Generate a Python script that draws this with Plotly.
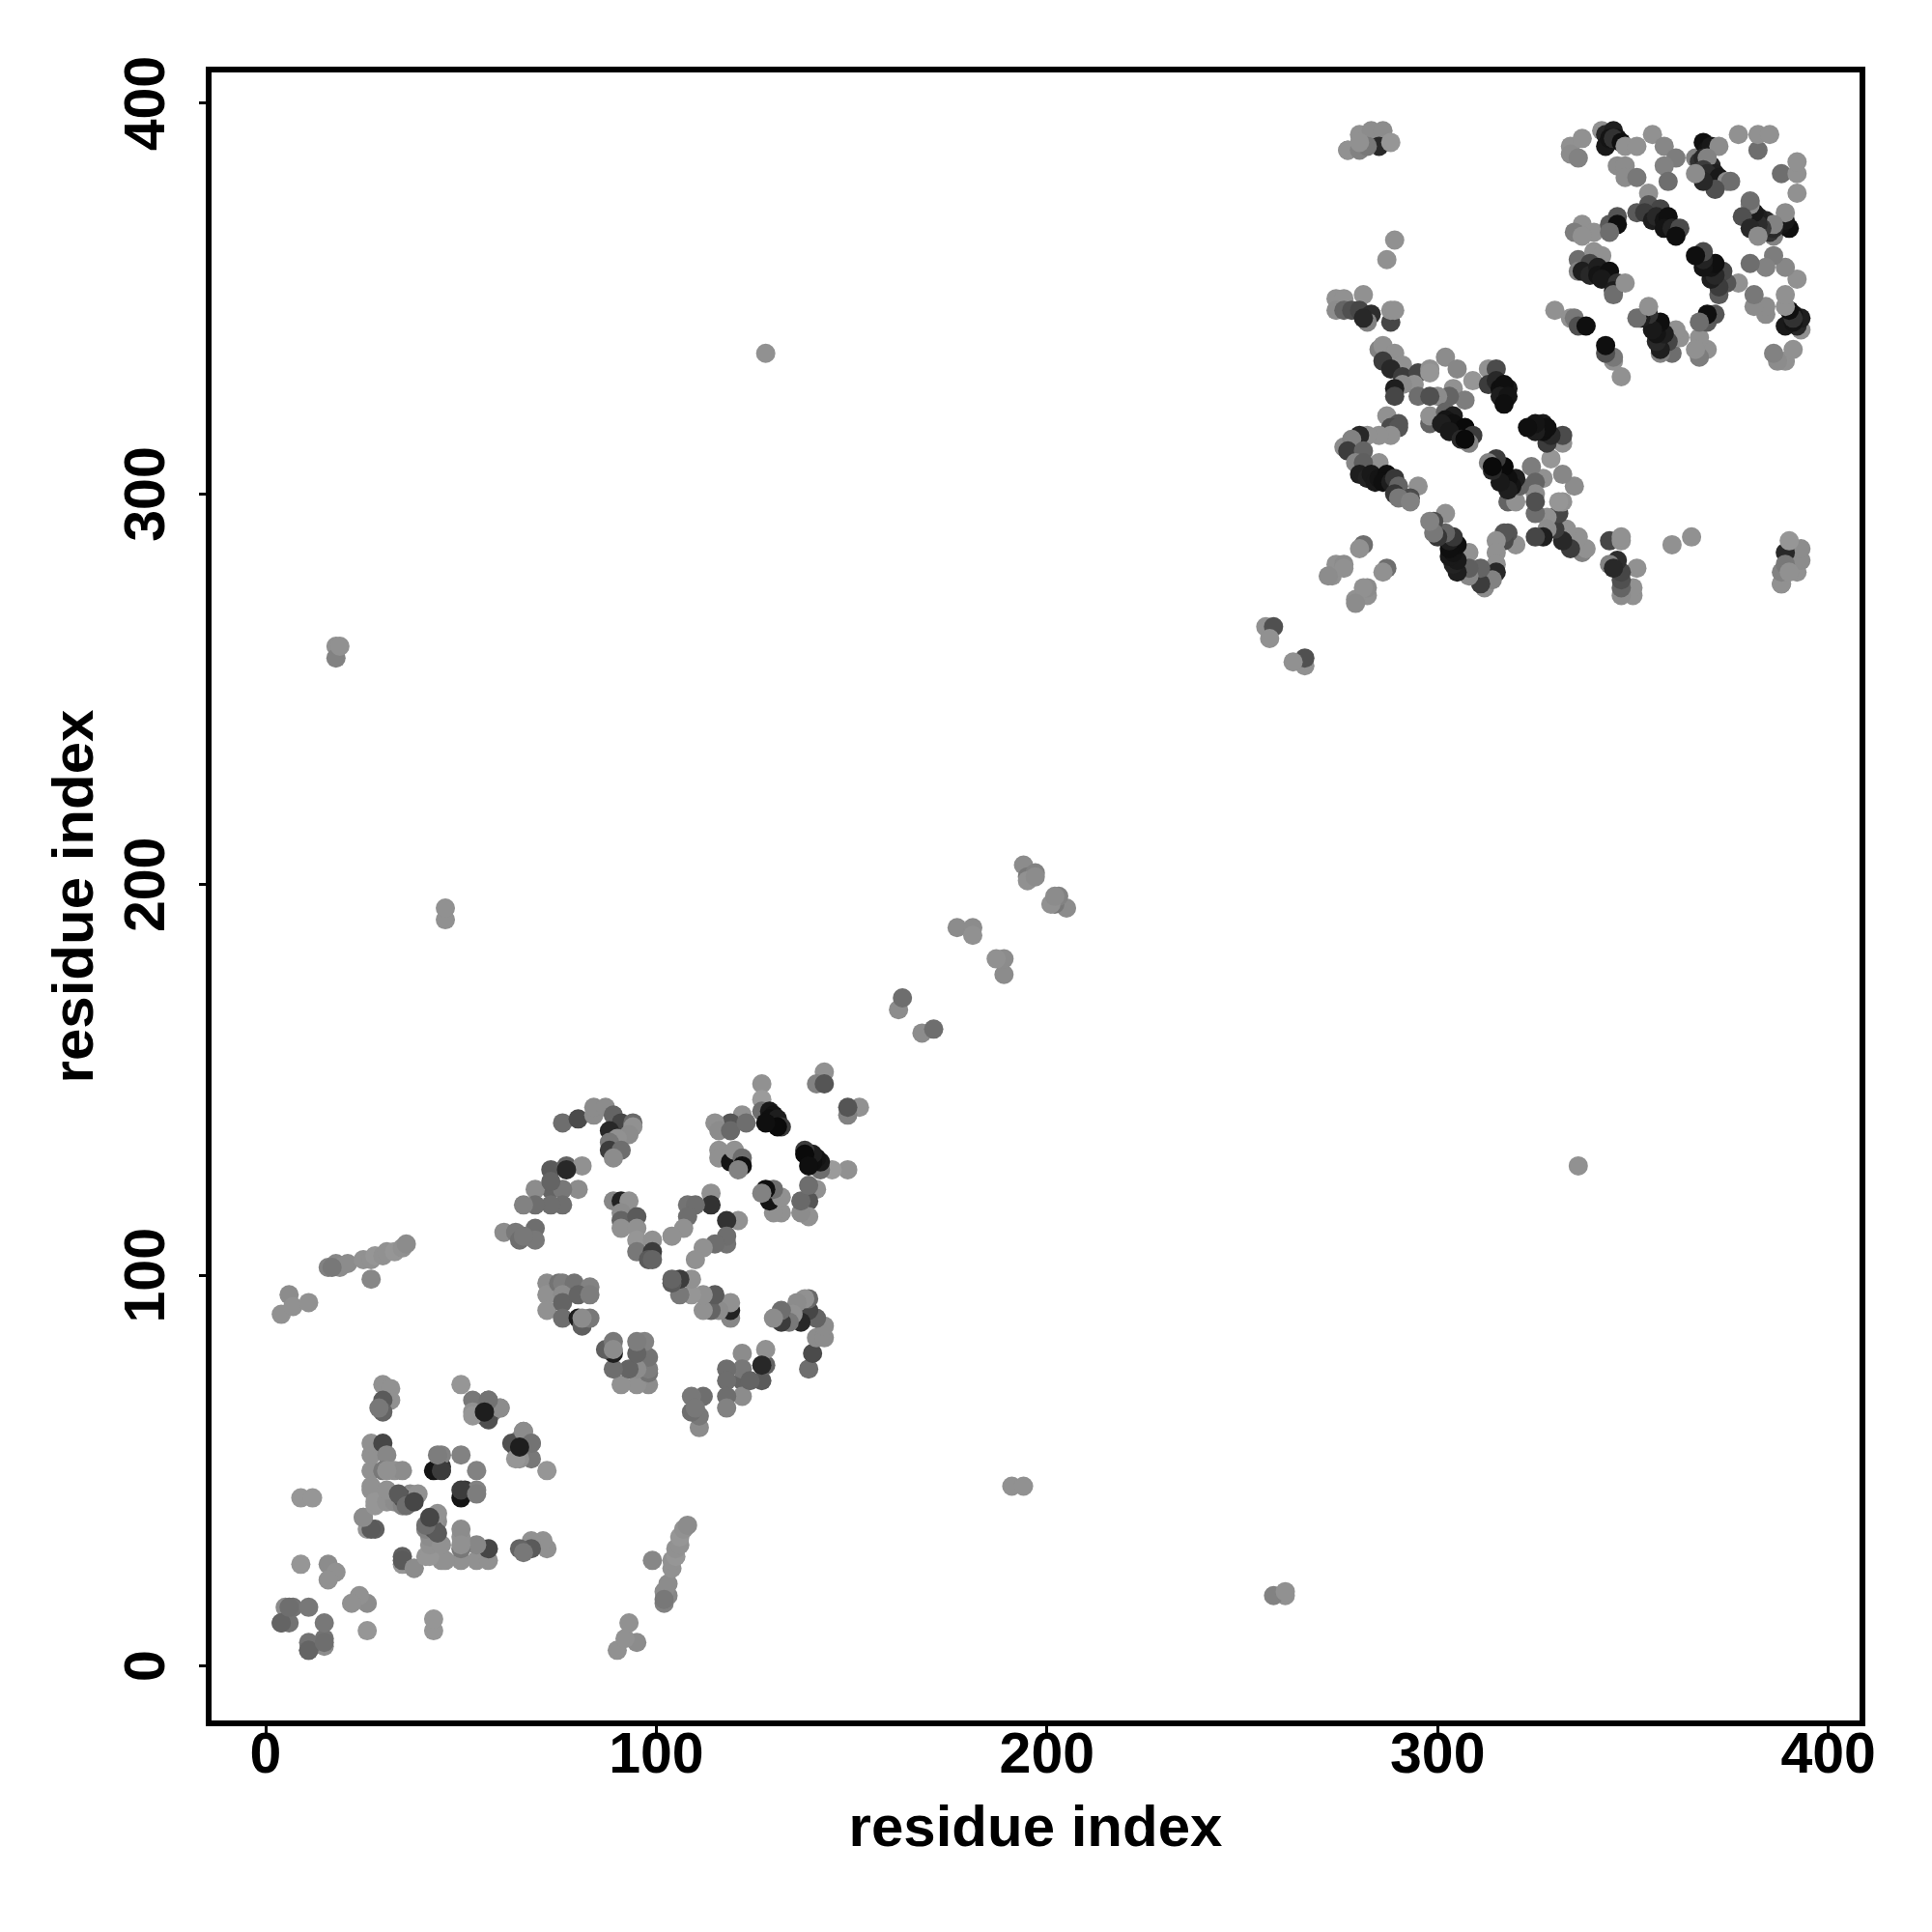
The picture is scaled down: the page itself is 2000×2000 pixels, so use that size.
import plotly.graph_objects as go

# Contacts: (residue i, residue j, grey level). The map is symmetric.
domain1 = [(9,26,150),(16,26,140),(18,24,145),(16,22,145),(5,15,140),(7,15,115),(4,11,105),(6,11,115),
(11,15,120),(4,11,100),(6,15,110),(9,43,150),(12,43,150),(25,38,145),(26,35,150),(28,35,95),
(27,35,90),(25,38,140),(28,41,150),(27,45,145),(27,50,145),(27,54,145),(27,57,145),(30,57,70),
(31,54,135),(30,50,120),(27,46,145),(28,42,150),(31,42,145),(33,50,145),(35,50,140),(37,44,140),
(35,42,60),(33,42,140),(31,45,145),(36,43,150),(35,41,130),(35,43,80),(34,44,90),(36,41,110),(39,44,145),(38,42,70),
(30,72,145),(32,71,145),(32,68,145),(30,68,90),(30,65,100),(29,66,120),(31,50,145),(45,51,55),(43,50,20),
(45,54,130),(50,72,150),(53,68,120),(57,68,120),(60,66,145),(53,65,145),(56,64,55),(58,65,130),
(57,63,80),(60,66,140),(57,68,115),(53,64,150),(45,50,60),(44,54,125),(56,65,30),(50,54,130)]

bridge = [(4,90,145),(6,95,140),(7,92,145),(11,93,145),(16,102,130),(18,103,135),(19,102,140),(21,103,140),
(25,104,145),(27,99,135),(27,104,145),(28,105,150),(30,105,145),(31,106,145),(33,106,150),(35,107,145),(36,108,140),
(18,261,145),(18,258,130),(19,261,145),(46,191,145),(46,194,145),(128,336,145),(17,102,120)]

offdiag = [(162,168,140),(163,171,110),(177,189,140),(181,189,140),(181,187,145),
(194,205,140),(195,202,120),(197,203,130),(195,201,145),(197,202,140),(256,266,145),(258,266,80),(257,263,145)]

domain2 = [(76,139,110),(80,140,75),(84,141,140),(84,143,140),(87,143,140),(89,141,100),(91,139,70),(94,139,105),
(94,138,145),(93,136,140),(88,137,40),(90,135,145),(88,134,120),(88,132,60),(91,132,110),(89,130,140),
(73,127,90),(77,128,100),(81,128,145),(80,122,140),(77,127,40),(73,122,100),(76,122,120),(69,122,140),
(76,118,110),(73,118,110),(69,118,110),(66,118,130),(73,124,100),(61,111,140),(64,111,120),(65,109,110),
(69,112,110),(69,109,120),(66,110,120),(127,149,145),(127,145,155),(127,142,110),(129,142,25),(130,141,20),(129,140,15),(130,139,15),(131,140,30),
(132,138,60),(131,138,10),(128,139,15),(122,141,145),(119,139,85),(115,139,145),(116,137,140),(119,137,105),
(123,139,110),(116,132,145),(116,130,145),(119,129,20),(120,132,145),(122,130,110),(122,128,15),(121,127,130),
(143,152,145),(141,149,130),(143,149,85),(89,119,135),(91,119,35),(93,119,145),(91,116,140),(91,114,100),
(91,112,145),(95,115,90),(95,112,145),(95,109,150),(95,106,120),(99,109,145),(99,106,60),(98,104,90),(99,104,100),
(114,121,145),(114,118,50),(108,118,115),(110,118,110),(108,115,110),(107,112,145),(104,110,145),
(72,98,140),(72,95,145),(72,91,145),(75,98,115),(76,98,125),(79,98,115),(83,97,130),(76,95,140),(76,93,100),
(80,95,100),(83,95,125),(76,89,110),(80,89,30),(81,87,95),(83,89,120),(81,89,140)]

domain3a = [(285,337,130),(286,338,145),(289,336,145),(286,334,60),(291,333,145),(288,332,40),(291,330,60),(295,331,70),
(294,328,145),(291,328,140),(289,327,30),(289,325,70),(295,325,110),(298,332,145),(302,335,140),(305,332,135),
(298,331,150),(309,329,150),(313,332,145),(315,332,75),(313,328,60),(315,329,40),(316,327,15),(318,327,25),(317,328,15),(316,325,30),(318,325,20),(317,323,15),
(304,327,145),(307,324,125),(303,325,100),(300,325,140),(298,325,80),(298,318,100),(298,320,145),(302,321,100),
(304,320,30),(302,319,20),(304,318,15),(305,316,15),(308,315,30),(301,318,30),(307,317,10),(303,316,25),(306,314,40),(309,315,60),(308,313,130),(307,314,10),
(287,320,145),(290,318,85),(288,317,75),(290,317,85),(288,315,145),(285,315,145),(282,315,145),(280,315,40),
(276,312,140),(278,314,130),(277,311,60),(281,311,100),(279,308,135),(285,308,145),(281,308,95),(280,305,30),
(282,304,35),(283,305,25),(284,303,25),(285,304,20),(287,305,15),(286,303,15),(288,303,30),(289,304,55),(290,302,100),(289,300,55),(295,302,145),(293,299,75),(290,299,120),(293,298,130),
(281,287,110),(280,286,145),(274,282,145),(276,282,140),(273,279,145),(276,281,145),(272,279,140)]

domain3b = [(277,388,130),(277,388,145),(280,392,145),(280,388,130),(283,393,140),(286,393,140),(285,389,40),(282,389,120),
(280,390,145),(288,390,150),(289,365,145),(287,360,145),(274,350,145),(276,350,145),(281,351,145),(274,347,140),
(276,347,100),(278,347,80),(280,347,70),(283,346,45),(282,344,130),(281,345,40),(288,344,70),(288,347,145),(289,347,145),
(330,347,145),(334,345,145),(335,345,120),(336,343,80),(338,343,15),(334,389,145),(337,391,145),
(334,387,140),(336,386,130),(342,393,145),(343,392,40),(345,393,30),(343,389,25),(344,391,20),(346,391,20),(345,391,50),(347,390,15),(348,389,145),
(351,389,145),(346,384,140),(348,384,140),(348,381,140),(351,381,120),(355,392,145),(358,389,135),(361,386,125),(358,384,130),
(359,380,110),(354,377,145),(351,372,90),(354,374,85),(357,373,70),(353,372,60),(355,370,30),(356,371,40),(358,370,20),(359,369,15),(361,368,25),(359,371,15),(358,368,20),
(360,368,35),(362,368,75),(361,366,15),(366,386,130),(368,390,15),(369,388,20),(370,389,25),(372,389,140),(367,385,50),(368,386,40),(370,384,40),(369,386,130),
(368,383,60),(371,382,30),(369,382,45),(372,381,25),(374,380,140),(375,380,110),(371,378,80),(368,380,40),(366,382,140),(377,392,145),(382,388,110),
(382,392,145),(385,392,145),(337,369,145),(335,367,125),(340,367,145),(337,366,145),(344,369,90),(346,371,85),(346,369,15),
(344,367,110),(336,360,110),(336,357,130),(340,362,145),(342,361,145),(339,359,70),(337,357,30),(339,356,40),(341,358,30),(343,356,20),(341,356,20),(344,355,25),(344,357,15),
(342,355,25),(346,354,50),(345,352,30),(345,351,110),(348,354,145)]

groups = [domain1, bridge, offdiag, domain2, domain3a, domain3b]
contacts = [c for g in groups for c in g]
residue_i = [c[0] for c in contacts]
residue_j = [c[1] for c in contacts]
grey = [c[2] for c in contacts]
tick_values = [0, 100, 200, 300, 400]

xs = residue_i + residue_j
ys = residue_j + residue_i
colors = [f"rgb({g},{g},{g})" for g in grey + grey]

fig = go.Figure(go.Scatter(x=xs, y=ys, mode="markers",
                           marker=dict(size=20, color=colors, line=dict(width=0)),
                           hoverinfo="skip", showlegend=False))

axis = dict(tickvals=tick_values, ticktext=[f"<b>{v}</b>" for v in tick_values],
            tickfont=dict(family="Liberation Sans", size=59, color="black"),
            ticks="outside", ticklen=7, tickwidth=3, tickcolor="black",
            showline=True, linewidth=6, linecolor="black", mirror=True,
            showgrid=False, zeroline=False)
title_font = dict(family="Liberation Sans", size=60, color="black")
fig.update_xaxes(range=[-13.85, 408.0], ticklabelstandoff=-30,
                 title=dict(text="<b>residue index</b>", font=title_font, standoff=24), **axis)
fig.update_yaxes(range=[-13.97, 407.9], tickangle=-90, ticklabelstandoff=12, ticklabelshift=9,
                 title=dict(text="<b>residue index</b>", font=title_font, standoff=3), **axis)
fig.update_layout(width=2000, height=2000, autosize=False, paper_bgcolor="white", plot_bgcolor="white",
                  margin=dict(l=211, r=83, t=67, b=227, autoexpand=False))
fig.write_html("out.html")
